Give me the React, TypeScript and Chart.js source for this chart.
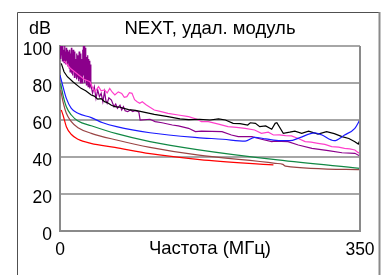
import React, { useEffect, useRef } from "react";
import { Chart, registerables } from "chart.js";

Chart.register(...registerables);

const TITLE = "NEXT, удал. модуль";
const Y_UNIT = "dB";
const X_TITLE = "Частота (МГц)";
const X_TICKS = [0, 350];
const Y_MIN = 0;
const Y_MAX = 100;
const Y_STEP = 20;

const redF = [1.5, 3.5, 7.4, 13, 21, 36, 64, 105, 163, 249];
const redDb = [65.4, 62.7, 56.4, 52.3, 49.6, 47.4, 45.2, 41.8, 38.6, 35.7];

const brownF = [0.8, 3.5, 7.4, 13.2, 21, 36.5, 66, 105, 160, 251, 260, 263, 350];
const brownDb = [76.2, 69.9, 63.6, 59.1, 55.8, 52.8, 49.2, 45.2, 41.1, 36.6, 36.0, 35.1, 33.2];

const greenF = [0.8, 3.5, 7.4, 13.2, 21, 36.5, 66, 105, 160, 254, 350];
const greenDb = [79.8, 73.5, 67.2, 62.7, 59.5, 56.9, 52.6, 48.3, 44.0, 38.4, 33.9];

const blueF = [0, 3.5, 7.4, 13.2, 21, 36.5, 50, 66, 105, 160, 190, 216, 227, 240, 257, 268, 280, 297, 305, 320, 332, 344, 350];
const blueDb = [84.3, 78, 71.7, 66.3, 63.6, 61.3, 58.5, 56.4, 53.1, 50.5, 49.6, 48.6, 50.6, 49.8, 48.8, 48.8, 50.5, 53.0, 52.0, 48.8, 51.9, 55.5, 60.2];

const blackF = [1.5, 4.7, 8.6, 15, 24.5, 30, 36.5, 40, 44, 48, 52, 56, 60, 64, 70, 80, 88, 95, 110, 126, 140, 150, 163, 175, 185, 193, 202, 210, 219, 222, 228, 233, 240, 247, 251, 253, 260.5, 268, 274, 282, 290, 301, 311, 320, 329, 337, 344, 348, 350];
const blackDb = [90.6, 86.1, 83.4, 80.7, 77.1, 75.8, 73.5, 72.9, 71.3, 71.6, 69.9, 69.2, 68.0, 67.2, 66.9, 65.6, 65.2, 64.5, 63.0, 61.8, 60.6, 60.2, 60.4, 60.0, 60.6, 60.0, 58.2, 58.0, 57.3, 58.5, 58.2, 56.4, 56.8, 55.0, 58.2, 58.5, 52.8, 53.4, 54.0, 52.8, 54.0, 52.4, 53.7, 52.6, 51.0, 50.0, 48.3, 47.0, 49.2];

const pinkF = [5, 12, 20, 28, 35, 38, 41, 45, 48, 52, 55, 58, 61, 64, 68, 72, 75, 78, 81, 84, 87, 90, 93, 96, 100, 104, 110, 118, 126, 138, 150, 160, 165, 173, 185, 196, 206, 216, 227, 235, 243, 249, 256, 263, 270, 278, 286, 293, 301, 309, 317, 325, 332, 338, 344, 348, 350];
const pinkDb = [92, 88, 85, 82, 80.7, 77.5, 75.3, 78, 75.8, 76.2, 74.6, 77.1, 75.0, 73.5, 75.2, 74.4, 72.3, 72.6, 74.8, 74.4, 71.0, 69.9, 69.0, 69.9, 68.4, 67.2, 65.4, 64.5, 63.6, 62.7, 61.8, 60.4, 59.1, 59.1, 57.8, 56.4, 56.0, 55.5, 54.6, 52.8, 53.4, 51.9, 52.0, 51.6, 51.4, 50.0, 48.3, 48.0, 47.4, 46.8, 45.6, 45.3, 44.7, 44.4, 43.8, 42.3, 42.7];

const purpleF = [0.3, 0.8, 1.3, 1.8, 2.3, 2.8, 3.3, 3.8, 4.3, 4.8, 5.3, 5.8, 6.3, 6.8, 7.3, 7.8, 8.3, 8.8, 9.3, 9.8, 10.3, 10.8, 11.3, 11.8, 12.3, 12.8, 13.3, 13.8, 14.3, 14.8, 15.3, 15.8, 16.3, 16.8, 17.3, 17.8, 18.3, 18.8, 19.3, 19.8, 20.3, 20.8, 21.3, 21.8, 22.3, 22.8, 23.3, 23.8, 24.3, 24.8, 25.3, 25.8, 26.3, 26.8, 27.3, 27.8, 28.3, 28.8, 29.3, 29.8, 30.3, 30.8, 31.3, 31.8, 32.3, 32.8, 33.3, 33.8, 34.3, 34.8, 35.3, 36, 38, 40, 42, 44, 46, 48, 50, 52, 53.5, 55, 57, 60, 63, 65, 67, 70, 72, 74, 76, 79, 82, 85, 87, 90, 92, 93.5, 105, 111, 119, 131, 138, 150, 158, 165, 189, 200, 208, 224, 235, 247, 251, 266, 278, 294, 313, 329, 344, 350];
const purpleDb = [100, 93, 100, 95, 99, 92, 100, 94, 98, 91, 100, 93, 97, 90, 99, 92, 96, 89, 98, 91, 97, 88, 98, 86, 96, 87, 99, 85, 95, 84, 98, 86, 94, 83, 97, 85, 93, 84, 96, 82, 95, 83, 92, 81, 97, 82, 94, 80, 96, 81, 93, 80, 98, 82, 100, 84, 100, 80, 99, 82, 96, 79, 94, 81, 95, 78, 93, 79, 92, 77, 90, 78.9, 74.5, 78.0, 71.7, 76.2, 72.6, 74.4, 69.9, 75.3, 70.5, 69.0, 72.0, 70.8, 67.2, 68.6, 66.3, 68.0, 65.4, 67.2, 65.0, 64.5, 65.4, 64.6, 65.0, 64.8, 64.2, 60.0, 60.4, 59.1, 58.5, 57.3, 56.8, 55.5, 53.7, 54.0, 53.7, 51.9, 51.0, 51.0, 49.6, 48.3, 48.6, 48.3, 46.5, 44.7, 43.4, 42.3, 42.0, 40.5];

const SERIES = [
  { name: "red", f: redF, v: redDb, color: "#ff0000", smooth: true },
  { name: "brown", f: brownF, v: brownDb, color: "#994444", smooth: true },
  { name: "green", f: greenF, v: greenDb, color: "#118844", smooth: true },
  { name: "blue", f: blueF, v: blueDb, color: "#1a1aff", smooth: true },
  { name: "black", f: blackF, v: blackDb, color: "#000000", smooth: false },
  { name: "pink", f: pinkF, v: pinkDb, color: "#ff40cc", smooth: false },
  { name: "purple", f: purpleF, v: purpleDb, color: "#8b008b", smooth: false },
];

const FONT = "'Liberation Sans', Arial, sans-serif";

const framePlugin = {
  id: "frame",
  beforeDraw(chart: any) {
    const ctx = chart.ctx;
    ctx.save();
    ctx.fillStyle = "#ffffff";
    ctx.fillRect(0, 0, chart.width, chart.height);
    ctx.strokeStyle = "#505050";
    ctx.lineWidth = 1;
    ctx.beginPath();
    ctx.moveTo(17.5, 280);
    ctx.lineTo(17.5, 12.5);
    ctx.lineTo(379, 12.5);
    ctx.stroke();
    ctx.strokeStyle = "#8a8a8a";
    ctx.lineWidth = 2;
    ctx.beginPath();
    ctx.moveTo(379.5, 12);
    ctx.lineTo(379.5, 280);
    ctx.stroke();
    ctx.restore();
  },
  afterDraw(chart: any) {
    const ctx = chart.ctx;
    const a = chart.chartArea;
    ctx.save();
    ctx.strokeStyle = "#8a8a8a";
    ctx.lineWidth = 2;
    ctx.beginPath();
    ctx.moveTo(a.right, a.top);
    ctx.lineTo(a.right, a.bottom);
    ctx.stroke();
    ctx.fillStyle = "#000";
    ctx.textAlign = "center";
    ctx.textBaseline = "middle";
    ctx.font = "18.5px " + FONT;
    ctx.fillText(TITLE, 210, 29);
    ctx.fillText(X_TITLE, 210, 249);
    ctx.font = "18px " + FONT;
    ctx.fillText(Y_UNIT, 40, 29);
    ctx.restore();
  },
};

export default function App() {
  const ref = useRef<HTMLCanvasElement>(null);
  useEffect(() => {
    if (!ref.current) return;
    const chart = new Chart(ref.current, {
      type: "line",
      data: {
        datasets: SERIES.map((s) => ({
          label: s.name,
          data: s.f.map((f, i) => ({ x: f, y: s.v[i] })),
          borderColor: s.color,
          backgroundColor: s.color,
          borderWidth: 1.2,
          pointRadius: 0,
          tension: 0,
          cubicInterpolationMode: s.smooth ? "monotone" : "default",
          fill: false,
        })),
      },
      options: {
        animation: false,
        responsive: false,
        layout: { padding: { left: 0, right: 26, top: 46, bottom: 0 } },
        plugins: { legend: { display: false }, tooltip: { enabled: false }, title: { display: false } },
        scales: {
          x: {
            type: "linear",
            min: X_TICKS[0],
            max: X_TICKS[X_TICKS.length - 1],
            afterBuildTicks: (scale: any) => {
              scale.ticks = X_TICKS.map((v) => ({ value: v }));
            },
            afterFit: (scale: any) => {
              scale.height = 44;
            },
            grid: { display: false, drawTicks: false },
            border: { display: true, color: "#8a8a8a", width: 2 },
            ticks: {
              autoSkip: false,
              maxRotation: 0,
              padding: 9,
              color: "#000",
              font: { family: FONT, size: 17.5 },
            },
          },
          y: {
            min: Y_MIN,
            max: Y_MAX,
            afterFit: (scale: any) => {
              scale.width = 60;
            },
            grid: { color: "#a6a6a6", lineWidth: 2, drawTicks: false },
            border: { display: true, color: "#8a8a8a", width: 2 },
            ticks: {
              stepSize: Y_STEP,
              padding: 8,
              color: "#000",
              font: { family: FONT, size: 17.5 },
              labelOffset: (c: any) => (c.tick && c.tick.value === 0 ? -5 : 4),
            },
          },
        },
      },
      plugins: [framePlugin],
    } as any);
    return () => chart.destroy();
  }, []);
  return (
    <div style={{ position: "absolute", left: 0, top: 0, width: 386, height: 275 }}>
      <canvas ref={ref} width={386} height={275} style={{ display: "block", width: 386, height: 275 }} />
    </div>
  );
}
